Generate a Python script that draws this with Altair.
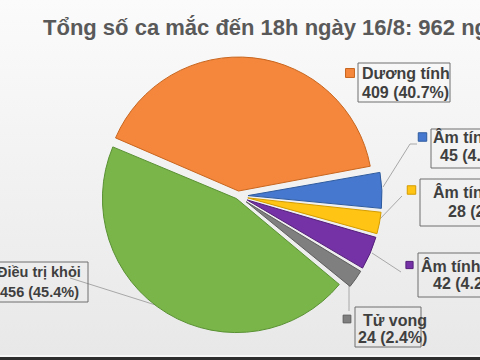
import altair as alt
import pandas as pd

# ---------------- data ----------------
categories = ["Dương tính", "Âm tính lần 1", "Âm tính lần 2", "Âm tính lần 3", "Tử vong", "Điều trị khỏi"]
values = [409, 45, 28, 42, 24, 456]
value_labels = ["409 (40.7%)", "45 (4.5%)", "28 (2.8%)", "42 (4.2%)", "24 (2.4%)", "456 (45.4%)"]
title_text = "Tổng số ca mắc đến 18h ngày 16/8: 962 người"

# ---------------- styles ----------------
fill_colors = ["#F4873B", "#4778D0", "#FFC414", "#7432A6", "#7F7F7F", "#79B548"]
stroke_colors = ["#C8661F", "#2F5C9E", "#D49C00", "#55207A", "#5E5E5E", "#5A9134"]
explode = [5, 10, 10, 10, 10, 3]
text_color = "#3F3F3F"

# ---------------- layout ----------------
W, H = 480, 360
CX, CY, R = 238, 196, 134
START = -1.169  # radians, clockwise from 12 o'clock

box_x0 = [358, 431, 420, 418, 355, -20]
box_x1 = [450, 545, 545, 545, 421, 88]
box_y0 = [63, 129, 179, 253, 307, 262]
box_y1 = [102, 168, 226, 297, 347, 302]
line1_x = [362, 433, 433, 421, 363, -3]
line2_x = [362, 440, 448, 433, 358, 0]
line1_y = [79, 143, 198, 272, 326, 277]
line2_y = [98, 161, 217, 289, 343, 297]
font_sizes = [16, 16, 16, 16, 16, 14.5]
marker_x = [350, 422.5, 411.5, 409.5, 347]
marker_y = [73, 137, 190, 265, 319]
marker_size = [80, 72, 72, 52, 60]
seg_x = [383, 410, 378, 372, 349, 70]
seg_y = [187, 144, 221, 253, 279, 278]
seg_x2 = [410, 417, 402, 401, 349, 162]
seg_y2 = [144, 144, 196, 272, 311, 307]

xs = alt.Scale(domain=[0, W], nice=False, zero=False)
ys = alt.Scale(domain=[0, H], nice=False, zero=False, reverse=True)
cscale = alt.Scale(domain=categories, range=fill_colors)
sscale = alt.Scale(domain=categories, range=stroke_colors)

pie_df = pd.DataFrame({
    "cat": categories,
    "value": values,
    "order": list(range(len(categories))),
    "explode": explode,
})

one = pd.DataFrame({"k": [0]})

background = alt.Chart(one).mark_rect(
    fill=alt.Gradient(
        gradient="linear",
        stops=[alt.GradientStop(color="#fbfbfb", offset=0),
               alt.GradientStop(color="#e8e8e8", offset=1)],
        x1=0, x2=0, y1=0, y2=1,
    )
).encode(x=alt.value(0), x2=alt.value(W), y=alt.value(0), y2=alt.value(355))

light_line = alt.Chart(one).mark_rect(fill="#f7f7f7").encode(
    x=alt.value(0), x2=alt.value(W), y=alt.value(355), y2=alt.value(357))
dark_bar = alt.Chart(one).mark_rect(fill="#2e2e2e").encode(
    x=alt.value(0), x2=alt.value(W), y=alt.value(357), y2=alt.value(H))

seg_df = pd.DataFrame({"x": seg_x, "y": seg_y, "x2": seg_x2, "y2": seg_y2})
leaders = alt.Chart(seg_df).mark_rule(color="#A8A8A8", strokeWidth=1).encode(
    x=alt.X("x:Q", scale=xs, axis=None),
    y=alt.Y("y:Q", scale=ys, axis=None),
    x2="x2:Q", y2="y2:Q",
)

pie = alt.Chart(pie_df).transform_joinaggregate(
    total="sum(value)"
).transform_window(
    cum="sum(value)", sort=[alt.SortField("order")], frame=[None, 0]
).transform_calculate(
    mid=f"{START} + 2*PI*(datum.cum - datum.value/2)/datum.total"
).transform_calculate(
    px=f"{CX} + datum.explode*sin(datum.mid)",
    py=f"{CY} - datum.explode*cos(datum.mid)",
).mark_arc(outerRadius=R, padAngle=0.012, strokeWidth=1).encode(
    theta=alt.Theta("value:Q", stack=True,
                    scale=alt.Scale(range=[START, START + 6.283185307])),
    order=alt.Order("order:Q"),
    color=alt.Color("cat:N", scale=cscale, legend=None),
    stroke=alt.Stroke("cat:N", scale=sscale, legend=None),
    x=alt.X("px:Q", scale=xs, axis=None),
    y=alt.Y("py:Q", scale=ys, axis=None),
)

box_df = pd.DataFrame({"x": box_x0, "x2": box_x1, "y": box_y0, "y2": box_y1})
boxes = alt.Chart(box_df).mark_rect(fill="#ffffff", fillOpacity=0.0,
                                    stroke="#6E6E6E", strokeWidth=1).encode(
    x=alt.X("x:Q", scale=xs, axis=None),
    x2="x2:Q",
    y=alt.Y("y:Q", scale=ys, axis=None),
    y2="y2:Q",
)

text_rows = []
for i, c in enumerate(categories):
    text_rows.append({"t": c, "x": line1_x[i], "y": line1_y[i], "fs": font_sizes[i]})
    text_rows.append({"t": value_labels[i], "x": line2_x[i], "y": line2_y[i], "fs": font_sizes[i]})
text_df = pd.DataFrame(text_rows)
texts = alt.Chart(text_df).mark_text(
    align="left", baseline="alphabetic", font="Liberation Sans",
    fontWeight="bold", color=text_color,
).encode(
    x=alt.X("x:Q", scale=xs, axis=None),
    y=alt.Y("y:Q", scale=ys, axis=None),
    text="t:N",
    size=alt.Size("fs:Q", scale=None, legend=None),
)

marker_df = pd.DataFrame({
    "cat": categories[:5], "x": marker_x, "y": marker_y, "s": marker_size,
})
markers = alt.Chart(marker_df).mark_square(filled=True, opacity=1, strokeWidth=1).encode(
    x=alt.X("x:Q", scale=xs, axis=None),
    y=alt.Y("y:Q", scale=ys, axis=None),
    color=alt.Color("cat:N", scale=cscale, legend=None),
    stroke=alt.Stroke("cat:N", scale=sscale, legend=None),
    size=alt.Size("s:Q", scale=None, legend=None),
)

title_df = pd.DataFrame({"t": [title_text], "x": [43], "y": [35]})
title = alt.Chart(title_df).mark_text(
    align="left", baseline="alphabetic", font="Liberation Sans",
    fontWeight="bold", fontSize=22, color="#595959",
).encode(
    x=alt.X("x:Q", scale=xs, axis=None),
    y=alt.Y("y:Q", scale=ys, axis=None),
    text="t:N",
)

chart = alt.layer(
    background, light_line, dark_bar, leaders, pie, boxes, texts, markers, title
).properties(
    width=W, height=H,
    autosize=alt.AutoSizeParams(type="none"),
    padding=0,
    background="#f4f4f4",
).configure_view(stroke=None)

chart.save("out.html", embed_options={"renderer": "svg", "actions": False})
